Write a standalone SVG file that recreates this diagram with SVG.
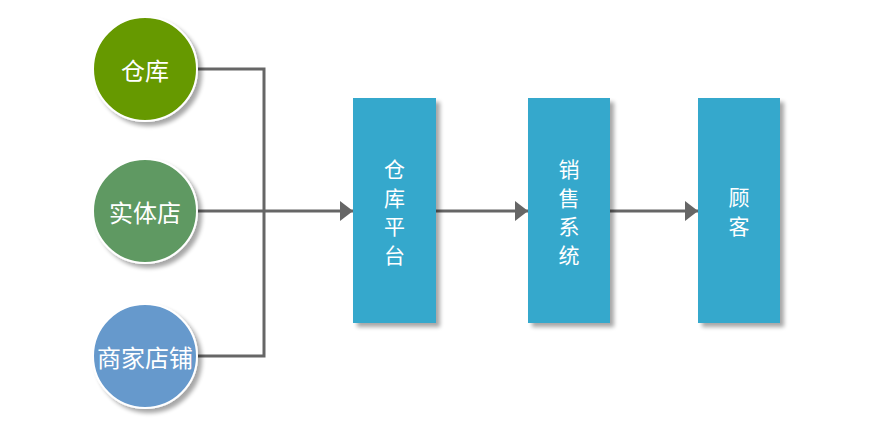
<svg xmlns="http://www.w3.org/2000/svg" width="883" height="431" viewBox="0 0 883 431">
<defs>
<filter id="sh" x="-20%" y="-20%" width="150%" height="150%">
<feGaussianBlur in="SourceAlpha" stdDeviation="2"/>
<feOffset dx="4" dy="4" result="b"/>
<feComponentTransfer><feFuncA type="linear" slope="0.35"/></feComponentTransfer>
<feMerge><feMergeNode/><feMergeNode in="SourceGraphic"/></feMerge>
</filter>
<marker id="arr" markerWidth="14" markerHeight="22" refX="13" refY="10" orient="auto" markerUnits="userSpaceOnUse">
<path d="M0,0 L13,10 L0,20 Z" fill="#666"/>
</marker>
<style>
.c{stroke:#fff;stroke-width:2}
.r{fill:#35a8cc}
.t{font-family:"Noto Sans CJK SC",sans-serif;font-size:21px;fill:#fff;text-anchor:middle;dominant-baseline:central}
.ct{font-size:24px}
.l{fill:none;stroke:#666;stroke-width:3}
</style>
</defs>
<g id="connectors">
<polyline class="l" points="197,69 264,69 264,356 197,356"/>
<line class="l" x1="197" y1="211" x2="264" y2="211"/>
<line class="l" x1="264" y1="211" x2="353" y2="211" marker-end="url(#arr)"/>
<line class="l" x1="436" y1="211" x2="528" y2="211" marker-end="url(#arr)"/>
<line class="l" x1="610" y1="211" x2="698" y2="211" marker-end="url(#arr)"/>
</g>
<g id="n1"><circle class="c" cx="145" cy="69" r="52" fill="#669900" filter="url(#sh)"/><text class="t ct" x="145" y="69">仓库</text></g>
<g id="n2"><circle class="c" cx="145" cy="211" r="52" fill="#5f9962" filter="url(#sh)"/><text class="t ct" x="145" y="211">实体店</text></g>
<g id="n3"><circle class="c" cx="145" cy="356" r="52" fill="#6699cc" filter="url(#sh)"/><text class="t ct" x="145" y="356">商家店铺</text></g>
<g id="n4"><rect class="r" x="353" y="98" width="83" height="225" filter="url(#sh)"/>
<text class="t" x="394.5" y="168">仓</text><text class="t" x="394.5" y="196.5">库</text><text class="t" x="394.5" y="225">平</text><text class="t" x="394.5" y="253.5">台</text></g>
<g id="n5"><rect class="r" x="528" y="98" width="82" height="225" filter="url(#sh)"/>
<text class="t" x="569" y="168">销</text><text class="t" x="569" y="196.5">售</text><text class="t" x="569" y="225">系</text><text class="t" x="569" y="253.5">统</text></g>
<g id="n6"><rect class="r" x="698" y="98" width="82" height="225" filter="url(#sh)"/>
<text class="t" x="739" y="196">顾</text><text class="t" x="739" y="224.5">客</text></g>
</svg>
